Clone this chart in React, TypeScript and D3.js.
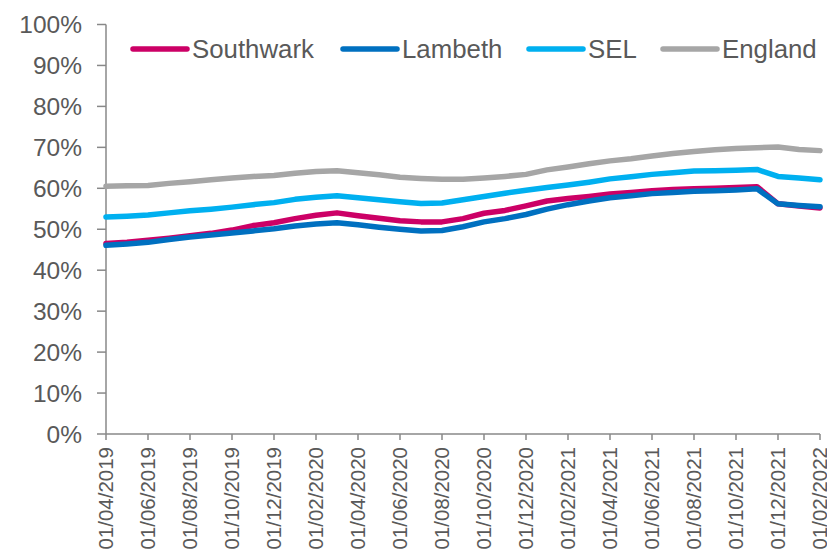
import React from "react";
import * as d3 from "d3";

const months = [
  "01/04/2019","01/05/2019","01/06/2019","01/07/2019","01/08/2019","01/09/2019","01/10/2019","01/11/2019","01/12/2019",
  "01/01/2020","01/02/2020","01/03/2020","01/04/2020","01/05/2020","01/06/2020","01/07/2020","01/08/2020","01/09/2020",
  "01/10/2020","01/11/2020","01/12/2020","01/01/2021","01/02/2021","01/03/2021","01/04/2021","01/05/2021","01/06/2021",
  "01/07/2021","01/08/2021","01/09/2021","01/10/2021","01/11/2021","01/12/2021","01/01/2022","01/02/2022",
];

const southwark = [46.5,46.8,47.3,47.8,48.4,49.0,49.8,50.9,51.6,52.6,53.4,54.0,53.3,52.7,52.1,51.8,51.8,52.6,53.9,54.6,55.7,56.9,57.5,58.0,58.6,59.0,59.4,59.7,59.9,60.0,60.2,60.4,56.2,55.7,55.2];
const lambeth = [46.1,46.4,46.8,47.5,48.1,48.6,49.1,49.6,50.1,50.8,51.3,51.6,51.1,50.5,50.0,49.6,49.7,50.6,51.8,52.6,53.6,54.9,56.0,56.9,57.7,58.2,58.7,59.0,59.3,59.4,59.6,59.9,56.2,55.8,55.5];
const sel = [53.0,53.2,53.5,54.0,54.5,54.9,55.4,56.0,56.5,57.3,57.8,58.2,57.7,57.2,56.7,56.3,56.4,57.2,58.0,58.8,59.5,60.2,60.8,61.5,62.3,62.8,63.4,63.8,64.2,64.3,64.4,64.6,62.9,62.5,62.1];
const england = [60.5,60.6,60.7,61.2,61.6,62.1,62.5,62.9,63.1,63.7,64.1,64.3,63.8,63.3,62.7,62.4,62.2,62.2,62.5,62.9,63.4,64.5,65.2,66.0,66.7,67.2,67.9,68.5,69.0,69.4,69.7,69.9,70.1,69.5,69.2];

const seriesNames = ["Southwark", "Lambeth", "SEL", "England"];
const seriesColors = ["#CC0066", "#0070C0", "#00B0F0", "#A6A6A6"];
const seriesValues = [southwark, lambeth, sel, england];
const yTicks = [0, 10, 20, 30, 40, 50, 60, 70, 80, 90, 100];

const W = 827, H = 556;
const left = 106, right = 820, top = 24.5, bottom = 434;
const axisColor = "#888888";
const textColor = "#595959";
const font = "'Liberation Sans', Arial, sans-serif";

export default function App() {
  const x = d3.scaleLinear().domain([0, months.length - 1]).range([left, right]);
  const y = d3.scaleLinear().domain([0, 100]).range([bottom, top]);
  const line = d3.line<number>().x((_, i) => x(i)).y((d) => y(d)).curve(d3.curveLinear);

  const legendX = [133, 343, 529, 663];
  const legendY = 49;

  const labelIdx = months.map((_, i) => i).filter((i) => i % 2 === 0);

  return (
    <svg width={W} height={H} style={{ position: "absolute", left: 0, top: 0, background: "#fff" }} fontFamily={font}>
      {/* y axis */}
      <line x1={left} x2={left} y1={top} y2={bottom} stroke={axisColor} strokeWidth={1.5} />
      {yTicks.map((t) => (
        <g key={t}>
          <line x1={left - 9} x2={left} y1={y(t)} y2={y(t)} stroke={axisColor} strokeWidth={1.5} />
          <text x={82} y={y(t)} dy="0.36em" textAnchor="end" fontSize={24.5} fill={textColor}>
            {t}%
          </text>
        </g>
      ))}
      {/* x axis */}
      <line x1={left} x2={right} y1={bottom} y2={bottom} stroke={axisColor} strokeWidth={1.5} />
      {labelIdx.map((i) => (
        <g key={i}>
          <line x1={x(i)} x2={x(i)} y1={bottom} y2={bottom + 6} stroke={axisColor} strokeWidth={1.5} />
          <text
            transform={`translate(${x(i) + 7},${447}) rotate(-90)`}
            textAnchor="end"
            fontSize={20.5}
            fill={textColor}
          >
            {months[i]}
          </text>
        </g>
      ))}
      {/* lines */}
      {seriesValues.map((vals, s) => (
        <path
          key={seriesNames[s]}
          d={line(vals) || ""}
          fill="none"
          stroke={seriesColors[s]}
          strokeWidth={5.5}
          strokeLinejoin="round"
          strokeLinecap="round"
        />
      ))}
      {/* legend */}
      {seriesNames.map((n, s) => (
        <g key={n}>
          <line
            x1={legendX[s]}
            x2={legendX[s] + 54}
            y1={legendY}
            y2={legendY}
            stroke={seriesColors[s]}
            strokeWidth={5.5}
            strokeLinecap="round"
          />
          <text x={legendX[s] + 59} y={legendY} dy="0.36em" fontSize={25.8} fill={textColor}>
            {n}
          </text>
        </g>
      ))}
    </svg>
  );
}
